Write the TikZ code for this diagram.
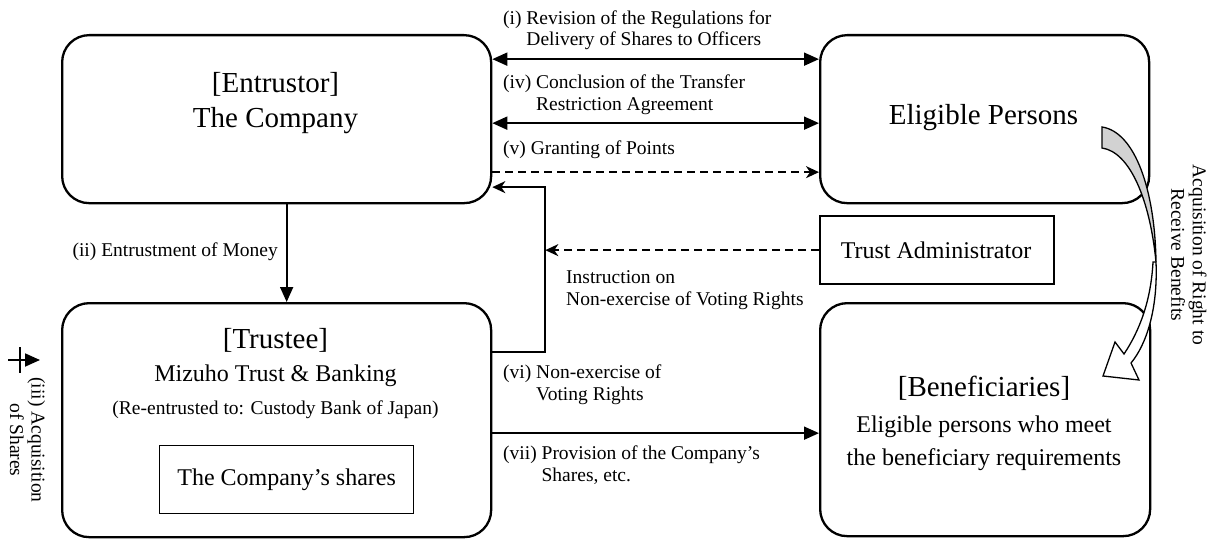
\documentclass[tikz,border=0pt]{standalone}
\usepackage{fontspec}
\setmainfont{Liberation Serif}
\usetikzlibrary{arrows.meta,calc}
\begin{document}
\begin{tikzpicture}[x=1pt,y=-1pt,
  rbox/.style={draw, line width=2.3pt, rounded corners=27pt, anchor=north west, inner sep=0pt},
  sbox/.style={draw, line width=2.3pt, anchor=north west, inner sep=0pt},
  ibox/.style={draw, line width=1.3pt, anchor=north west, inner sep=0pt},
  title/.style={font=\fontsize{29}{33}\selectfont, inner sep=0pt},
  mid/.style={font=\fontsize{24}{33}\selectfont, inner sep=0pt},
  lbl/.style={font=\fontsize{19.5}{21.5}\selectfont, inner sep=0pt, align=left},
  conn/.style={line width=1.8pt},
  tri/.style={-{Triangle[length=15pt,width=13pt]}},
  dtri/.style={{Triangle[length=15pt,width=13pt]}-{Triangle[length=15pt,width=13pt]}},
  stl/.style={-{Stealth[length=13pt,width=12pt,inset=4pt]}},
  dsh/.style={dash pattern=on 8pt off 5pt},
]
\useasboundingbox (0,0) rectangle (1215,543);
% boxes
\node[rbox, minimum width=429pt, minimum height=168pt] (ent) at (61,34) {};
\node[rbox, minimum width=429pt, minimum height=234pt] (tru) at (61,302) {};
\node[rbox, minimum width=329pt, minimum height=168pt] (elig) at (819,34) {};
\node[sbox, minimum width=234pt, minimum height=68pt] (adm) at (819,215) {};
\node[rbox, minimum width=330pt, minimum height=233pt] (ben) at (819,302) {};
\node[ibox, minimum width=254pt, minimum height=68pt] (shr) at (159,445) {};
% box texts
\node[title] (entA) at (275.5,84) {[Entrustor]};
\node[title] (entB) at (275.5,121) {The Company};
\node[title] (eligT) at (983.5,118) {Eligible Persons};
\node[mid] (admT) at (936,250) {Trust Administrator};
\node[title] (truA) at (275.5,340) {[Trustee]};
\node[mid] (truB) at (275.5,376) {Mizuho Trust \& Banking};
\node[lbl] (truC) at (275.5,410) {(Re-entrusted to: Custody Bank of Japan)};
\node[mid] (shrT) at (shr.center) {The Company’s shares};
\node[title] (benA) at (984,388) {[Beneficiaries]};
\node[mid, align=center] (benB) at (984,443) {Eligible persons who meet\\the beneficiary requirements};
% connectors
\draw[conn, dtri] ([yshift=60pt]ent.east) -- ([yshift=60pt]elig.west);
\draw[conn, dtri] ([yshift=-4pt]ent.east) -- ([yshift=-4pt]elig.west);
\draw[conn, dsh, stl] ([yshift=-53pt]ent.east) -- ([yshift=-53pt]elig.west);
\draw[conn, tri] ([xshift=10pt]ent.south) -- ([xshift=10pt]tru.north);
\draw[conn, tri] ([yshift=-13pt]tru.east) -- ([yshift=-13pt]tru.east -| ben.west);
\draw[conn, stl] ([yshift=68pt]tru.east) -- ++(53,0) coordinate (knee) |- ([yshift=-68pt]ent.east);
\draw[conn, dsh, stl] (adm.west) -- (adm.west -| knee);
% labels
\node[lbl, anchor=base west] (l1) at (503,24.5) {\begin{tabular}[t]{@{}l@{ }l@{}}(i) & Revision of the Regulations for\\ & Delivery of Shares to Officers\end{tabular}};
\node[lbl, anchor=base west] (l4) at (503,88.5) {\begin{tabular}[t]{@{}l@{ }l@{}}(iv) & Conclusion of the Transfer\\ & Restriction Agreement\end{tabular}};
\node[lbl, anchor=base west] (l5) at (503,154.5) {(v) Granting of Points};
\node[lbl, anchor=base east] (l2) at (278,256.5) {(ii) Entrustment of Money};
\node[lbl, anchor=base west] (lin) at (566,283.5) {\begin{tabular}[t]{@{}l@{}}Instruction on\\Non-exercise of Voting Rights\end{tabular}};
\node[lbl, anchor=base west] (l6) at (503,378.5) {\begin{tabular}[t]{@{}l@{ }l@{}}(vi) & Non-exercise of\\ & Voting Rights\end{tabular}};
\node[lbl, anchor=base west] (l7) at (503,459.5) {\begin{tabular}[t]{@{}l@{ }l@{}}(vii) & Provision of the Company’s\\ & Shares, etc.\end{tabular}};
% rotated labels
\node[lbl, align=center, rotate=-90] (acq) at (1189,255) {Acquisition of Right to\\Receive Benefits};
\node[lbl, align=center, rotate=-90] (acs) at (27.5,440) {(iii) Acquisition\\of Shares};
% left arrow
\coordinate (a0) at (8,360);
\coordinate (a1) at (40,360);
\coordinate (v0) at (20,347);
\coordinate (v1) at (20,373);
\draw[conn, tri] (a0) -- (a1);
\draw[conn] (v0) -- (v1);
% curved block arrow
\draw[line width=1.3pt, fill=gray!35] (1102,127) .. controls (1135,132) and (1155,190) .. (1156,262) .. controls (1150,200) and (1130,152) .. (1102,148) -- cycle;
\draw[line width=1.3pt, fill=white] (1156,262) .. controls (1158,310) and (1146,345) .. (1131,363) -- (1139,380) -- (1103,376) -- (1115,342) -- (1124,354) .. controls (1140,330) and (1151,300) .. (1153,262) -- cycle;
\end{tikzpicture}
\end{document}
